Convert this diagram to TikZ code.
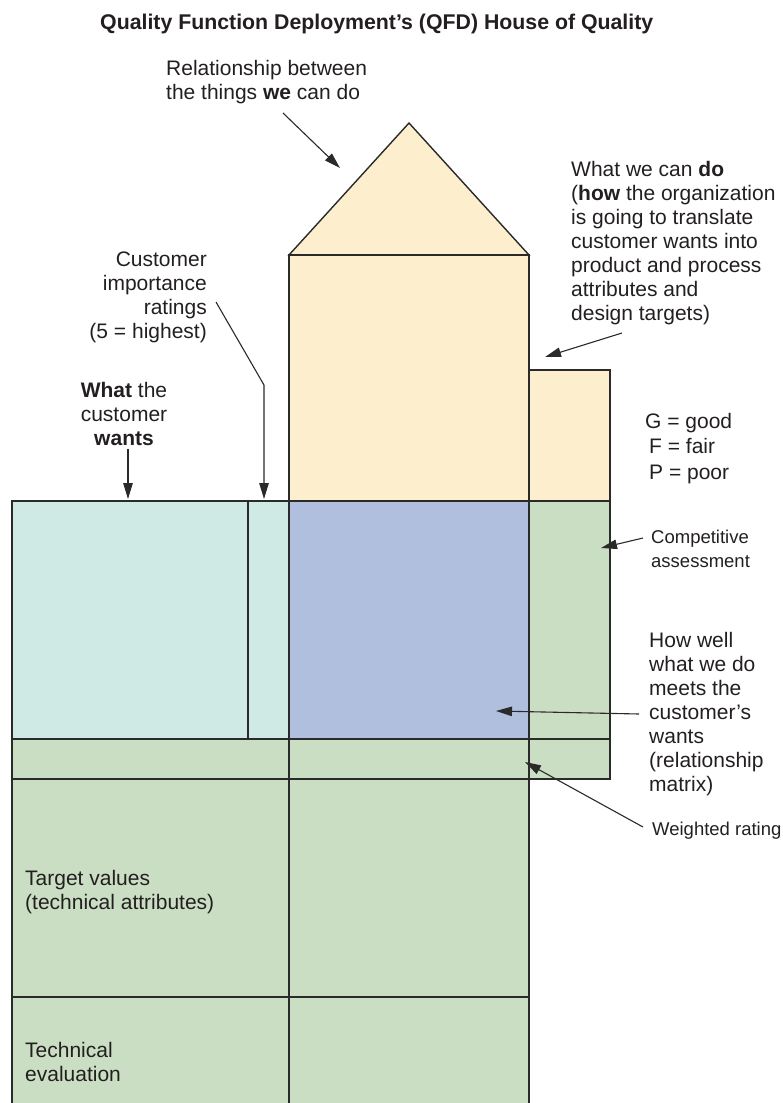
\documentclass[tikz,border=0pt]{standalone}
\usepackage{fontspec}
\setmainfont{Liberation Sans}
\usetikzlibrary{arrows.meta}
\definecolor{qbeige}{HTML}{FDEFCE}
\definecolor{qteal}{HTML}{CFE9E5}
\definecolor{qblue}{HTML}{B0BFDD}
\definecolor{qgreen}{HTML}{CADEC3}
\definecolor{linec}{HTML}{2B2A2A}
\definecolor{txtc}{HTML}{231F20}
\begin{document}
\begin{tikzpicture}[x=1pt,y=-1pt,
  box/.style={draw=linec, line width=1.4pt},
  conn/.style={draw=linec, line width=1.1pt, -{Triangle[length=16pt,width=9.5pt]}},
  lbl/.style={inner sep=0pt, text=txtc, font=\fontsize{21}{24}\selectfont},
  small/.style={inner sep=0pt, text=txtc, font=\fontsize{18.5}{24}\selectfont},
]
\useasboundingbox (0,0) rectangle (783,1103);
\clip (0,0) rectangle (783,1103);

% house
\draw[box, fill=qbeige] (289,255) -- (409,123) -- (529,255) -- cycle;
\draw[box, fill=qbeige] (289,255) rectangle (529,501);
\draw[box, fill=qbeige] (529,370) rectangle (610,501);
\draw[box, fill=qteal] (12,501) rectangle (289,739);
\draw[box] (248,501) -- (248,739);
\draw[box, fill=qblue] (289,501) rectangle (529,739);
\draw[box, fill=qgreen] (529,501) rectangle (610,779);
\draw[box] (529,739) -- (610,739);
\draw[box, fill=qgreen] (12,739) rectangle (289,779);
\draw[box, fill=qgreen] (289,739) rectangle (529,779);
\draw[box, fill=qgreen] (12,779) rectangle (289,997);
\draw[box, fill=qgreen] (289,779) rectangle (529,997);
\draw[box, fill=qgreen] (12,997) rectangle (289,1120);
\draw[box, fill=qgreen] (289,997) rectangle (529,1120);

% labels
\node[lbl, font=\bfseries\fontsize{21.3}{24}\selectfont, anchor=base west] (title) at (100,29)
  {Quality Function Deployment’s (QFD) House of Quality};
\node[lbl, align=left, anchor=north west] (rel) at (166,58.2)
  {\strut Relationship between\\the things \textbf{we} can do};
\node[lbl, align=left, anchor=north west] (how) at (571,159.2)
  {\strut What we can \textbf{do}\\(\textbf{how} the organization\\is going to translate\\customer wants into\\product and process\\attributes and\\design targets)};
\node[lbl, align=right, anchor=north east] (imp) at (207,249.2)
  {\strut Customer\\importance\\ratings\\(5 = highest)};
\node[lbl, align=center, anchor=north] (what) at (124,380.2)
  {\strut\textbf{What} the\\customer\\\textbf{wants}};
\node[lbl, font=\fontsize{21}{25.5}\selectfont, align=left, anchor=north west] (gfp) at (645,410.15)
  {\strut G = good\\\hspace*{4pt}F = fair\\\hspace*{4pt}P = poor};
\node[small, align=left, anchor=north west] (comp) at (651,526.2)
  {\strut Competitive\\assessment};
\node[lbl, align=left, anchor=north west] (well) at (649,630.2)
  {\strut How well\\what we do\\meets the\\customer’s\\wants\\(relationship\\matrix)};
\node[small, anchor=base west] (wrate) at (652,835) {Weighted rating};
\node[lbl, align=left, anchor=north west] (target) at (25,868.2)
  {\strut Target values\\(technical attributes)};
\node[lbl, align=left, anchor=north west] (tech) at (25,1040.2)
  {\strut Technical\\evaluation};

% connectors
\coordinate (relS) at (283,113);  \coordinate (relT) at (340,168);
\coordinate (howS) at (622,333);  \coordinate (howT) at (545,357);
\coordinate (impS) at (216,302);  \coordinate (impB) at (264,385); \coordinate (impT) at (264,499);
\coordinate (whatS) at (128,449); \coordinate (whatT) at (128,499);
\coordinate (compS) at (643,538); \coordinate (compT) at (601,548);
\coordinate (wellS) at (639,714); \coordinate (wellT) at (496,711);
\coordinate (wrS) at (643,827);   \coordinate (wrT) at (525,762);
\draw[conn] (relS) -- (relT);
\draw[conn] (howS) -- (howT);
\draw[conn] (impS) -- (impB) -- (impT);
\draw[conn] (whatS) -- (whatT);
\draw[conn] (compS) -- (compT);
\draw[conn] (wellS) -- (wellT);
\draw[conn] (wrS) -- (wrT);
\end{tikzpicture}
\end{document}
